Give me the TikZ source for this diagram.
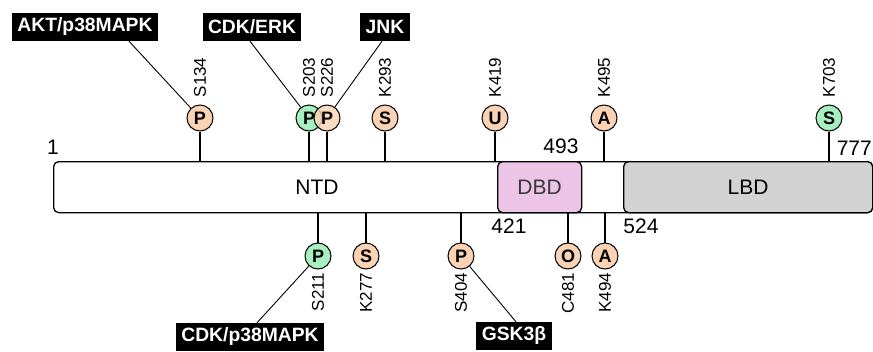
\documentclass[tikz,border=0pt]{standalone}
\usepackage{fontspec}
\setmainfont{Liberation Sans}
\usetikzlibrary{calc}
\definecolor{peach}{HTML}{FBD2B4}
\definecolor{mint}{HTML}{A6EFBF}
\definecolor{dbdpink}{HTML}{EBC4E7}
\definecolor{lbdgray}{HTML}{D3D3D3}
\begin{document}
\begin{tikzpicture}[x=1pt,y=-1pt,
  site/.style={circle, draw, line width=1pt, minimum size=26pt, inner sep=0pt, font=\fontsize{18}{18}\selectfont\bfseries},
  pe/.style={site, fill=peach},
  gr/.style={site, fill=mint},
  kin/.style={fill=black, text=white, font=\fontsize{19.3}{19.3}\selectfont\bfseries, minimum height=28pt, inner xsep=5.5pt, inner ysep=0pt},
  lab/.style={rotate=90, inner sep=0pt, font=\fontsize{17}{17}\selectfont},
  num/.style={inner sep=0pt, font=\fontsize{21}{21}\selectfont},
  dom/.style={draw, line width=1.3pt, rounded corners=5pt, minimum height=51pt, inner sep=0pt, anchor=north west, font=\fontsize{21}{21}\selectfont},
  stem/.style={line width=1.3pt},
  link/.style={line width=0.9pt}]
\useasboundingbox (0,0) rectangle (873,351);

% domains
\node[dom, fill=white, minimum width=819pt] (bar) at (53,161) {};
\node[dom, fill=dbdpink, minimum width=84pt, text=black!78] (dbd) at (497,161) {DBD};
\node[dom, fill=lbdgray, minimum width=249pt] (lbd) at (623,161) {LBD};
\node[inner sep=0pt, font=\fontsize{21}{21}\selectfont] (ntd) at (317,187) {NTD};

% numbers
\node[num] (n1) at (53,147) {1};
\node[num] (n493) at (561,146) {493};
\node[num, anchor=east] (n777) at (872,148) {777};
\node[num] (n421) at (509,226) {421};
\node[num] (n524) at (641,226) {524};

% top sites
\node[pe] (s134) at (200,118) {P};
\node[gr] (s203) at (309,118) {P};
\node[pe, fill opacity=0.8, text opacity=1] (s226) at (327,118) {P};
\node[pe] (k293) at (385,118) {S};
\node[pe] (k419) at (495,118) {U};
\node[pe] (k495) at (604,118) {A};
\node[gr] (k703) at (829,118) {S};

% bottom sites
\node[gr] (s211) at (318,256) {P};
\node[pe] (k277) at (366,256) {S};
\node[pe] (s404) at (461,256) {P};
\node[pe] (c481) at (568,256) {O};
\node[pe] (k494) at (605,256) {A};

% stems
\foreach \s in {s134,s203,s226,k293,k419,k495,k703}
  \draw[stem] (\s.south) -- (\s.south |- bar.north);
\foreach \s in {s211,k277,s404,c481,k494}
  \draw[stem] (\s.north) -- (\s.north |- bar.south);

% site labels (top)
\node[lab, anchor=west] (l134) at ([yshift=7pt]s134.north) {S134};
\node[lab, anchor=west] (l203) at ([yshift=7pt]s203.north) {S203};
\node[lab, anchor=west] (l226) at ([yshift=7pt]s226.north) {S226};
\node[lab, anchor=west] (l293) at ([yshift=7pt]k293.north) {K293};
\node[lab, anchor=west] (l419) at ([yshift=7pt]k419.north) {K419};
\node[lab, anchor=west] (l495) at ([yshift=7pt]k495.north) {K495};
\node[lab, anchor=west] (l703) at ([yshift=7pt]k703.north) {K703};
% site labels (bottom)
\node[lab, anchor=east] (l211) at ([yshift=-3pt]s211.south) {S211};
\node[lab, anchor=east] (l277) at ([yshift=-3pt]k277.south) {K277};
\node[lab, anchor=east] (l404) at ([yshift=-3pt]s404.south) {S404};
\node[lab, anchor=east] (l481) at ([yshift=-3pt]c481.south) {C481};
\node[lab, anchor=east] (l494) at ([yshift=-3pt]k494.south) {K494};

% kinases
\node[kin] (akt) at (85,27) {AKT/p38MAPK};
\node[kin] (erk) at (252,27) {CDK/ERK};
\node[kin] (jnk) at (385,27) {JNK};
\node[kin] (cdkp) at (250,337) {CDK/p38MAPK};
\node[kin] (gsk) at (514,336) {GSK3β};

\draw[link] ([xshift=44pt]akt.south) -- (s134);
\draw[link] ([xshift=-2pt]erk.south) -- (s203);
\draw[link] ([xshift=-3pt]jnk.south) -- (s226);
\draw[link] ([xshift=7pt]cdkp.north) -- (s211);
\draw[link] ([xshift=2pt]gsk.north) -- (s404);
\end{tikzpicture}
\end{document}
